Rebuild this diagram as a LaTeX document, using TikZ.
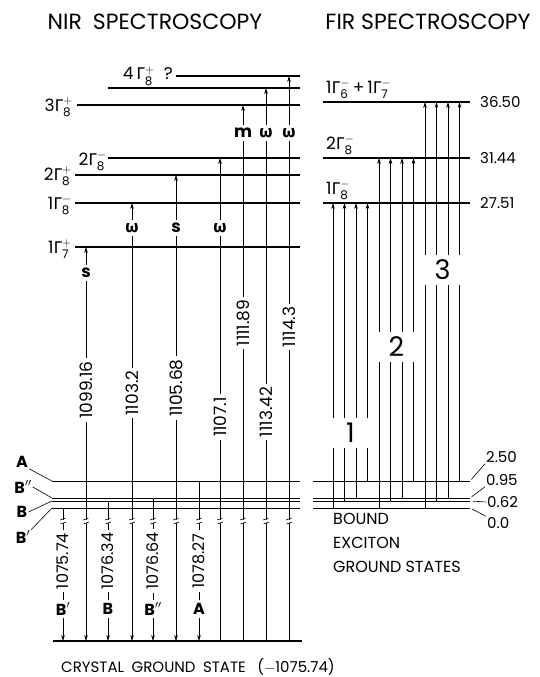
\documentclass[tikz,border=0pt]{standalone}
\usepackage{amsmath}
\usepackage{fontspec}
\setmainfont{Poppins}
\newfontfamily\gfont{Fira Sans}
\usetikzlibrary{arrows.meta}

% level symbol: Gamma with sub- and superscript
\newcommand{\Gm}[2]{{\gfont Γ}\ensuremath{^{#2}_{\text{#1}}}}

\begin{document}
\begin{tikzpicture}[x=1pt, y=-1pt]
\tikzstyle{lvl} = [line width=1.3pt]
\tikzstyle{blvl} = [line width=1pt]
\tikzstyle{trans} = [line width=0.6pt]
\tikzstyle{tip} = [-{Stealth[length=6pt,width=3.6pt]}]
\tikzstyle{tips} = [{Stealth[length=6pt,width=3.6pt]}-{Stealth[length=6pt,width=3.6pt]}]
\tikzstyle{lab} = [font=\fontsize{15}{18}\selectfont, inner sep=1pt]
\tikzstyle{glab} = [lab, font=\fontsize{17}{20}\selectfont]
\tikzstyle{wlab} = [lab, font=\fontsize{17}{20}\selectfont\bfseries, fill=white, inner sep=3pt]
\tikzstyle{vlab} = [lab, font=\fontsize{17}{20}\selectfont, rotate=90, fill=white, inner sep=3pt]
\tikzstyle{big} = [font=\fontsize{27}{28}\selectfont, fill=white, minimum width=42pt, minimum height=30pt, inner sep=0pt]
\tikzstyle{ttl} = [font=\fontsize{22}{24}\selectfont]

\useasboundingbox (0,0) rectangle (539,677);

\node[ttl] (nir) at (155,22) {NIR\enspace SPECTROSCOPY};
\node[ttl] (fir) at (428,22) {FIR SPECTROSCOPY};

% NIR excited levels
\foreach \n/\xa/\y in {g4/176/76, gx/108/88, g3/77/105, g2m/108/158, g2p/75/175, g1m/75/203, g1p/75/247}
  \draw[lvl] (\xa,\y) coordinate (\n) -- (300,\y);
\node[glab, anchor=east] (l4) at (174,76) {4\,\Gm{8}{+}\; ?};
\node[glab, anchor=east] (l3) at (74,107) {3\Gm{8}{+}};
\node[glab, anchor=east] (l2m) at (108,161) {2\Gm{8}{-}};
\node[glab, anchor=east] (l2p) at (73,176) {2\Gm{8}{+}};
\node[glab, anchor=east] (l1m) at (73,205) {1\Gm{8}{-}};
\node[glab, anchor=east] (l1p) at (73,249) {1\Gm{7}{+}};

% FIR excited levels
\foreach \n/\y in {f3/102, f2/158, f1/203}
  \draw[lvl] (323,\y) coordinate (\n) -- (470,\y);
\node[glab, anchor=south west] (r3) at (325,100) {1\Gm{6}{-}\,+\,1\Gm{7}{-}};
\node[glab, anchor=south west] (r2) at (325,156) {2\Gm{8}{-}};
\node[glab, anchor=south west] (r1) at (325,201) {1\Gm{8}{-}};
\node[lab, anchor=west] (e3) at (479,102) {36.50};
\node[lab, anchor=west] (e2) at (479,158) {31.44};
\node[lab, anchor=west] (e1) at (479,203) {27.51};

% bound exciton levels and crystal ground state
\foreach \n/\y in {A/481, Bpp/498, B/501, Bp/508} {
  \draw[blvl] (52,\y) coordinate (L\n) -- (300,\y);
  \draw[blvl] (313,\y) coordinate (R\n) -- (470,\y) coordinate (E\n);
}
\draw[lvl] (53,641) coordinate (gs) -- (302,641);

% labels of the bound exciton levels
\node[lab, font=\fontsize{16}{18}\selectfont\bfseries] (bA) at (22,462) {A};
\node[lab, font=\fontsize{16}{18}\selectfont\bfseries] (bBpp) at (23,487) {B$''$};
\node[lab, font=\fontsize{16}{18}\selectfont\bfseries] (bB) at (22,512) {B};
\node[lab, font=\fontsize{16}{18}\selectfont\bfseries] (bBp) at (23,537) {B$'$};
\draw[trans] (bA.south east) -- (LA);
\draw[trans] (bBpp.east) -- (LBpp);
\draw[trans] (bB.east) -- (LB);
\draw[trans] (bBp.north east) -- (LBp);

\node[lab, anchor=west] (v250) at (485,457) {2.50};
\node[lab, anchor=west] (v095) at (485,480) {0.95};
\node[lab, anchor=west] (v062) at (486,502) {0.62};
\node[lab, anchor=west] (v000) at (486,523) {0.0};
\draw[trans, shorten >=2pt] (v250.south west) -- (EA);
\draw[trans, shorten >=2pt] (v095.south west) -- (EBpp);
\draw[trans, shorten >=3pt] (v062.west) -- (EB);
\draw[trans, shorten >=2pt] (v000.north west) -- (EBp);

\node[lab, anchor=north west, align=left, font=\fontsize{16}{24}\selectfont] (bx) at (332,512) {BOUND\\EXCITON\\GROUND STATES};
\node[lab, anchor=west] (cgs) at (60,667) {CRYSTAL\enspace GROUND\enspace STATE\enspace\ ($-$1075.74)};

% NIR transitions from the crystal ground state
\foreach \x/\t/\lb/\ly/\num/\ny in {86/g1p/s/273/1099.16/390, 132/g1m/{\gfont ω}/228/1103.2/393, 176/g2p/s/228/1105.68/388} {
  \draw[trans, tips] (\x,0 |- gs) -- (\x,0 |- \t);
  \node[wlab] (s\x) at (\x,\ly) {\lb};
  \node[vlab] (n\x) at (\x,\ny) {\num};
}
\foreach \x/\t/\lb/\ly/\num/\ny in {220/g2m/{\gfont ω}/228/1107.1/417, 243/g3/m/133/1111.89/323, 266/gx/{\gfont ω}/133/1113.42/412, 289/g4/{\gfont ω}/133/1114.3/327} {
  \draw[trans, tip] (\x,0 |- gs) -- (\x,0 |- \t);
  \node[wlab] (s\x) at (\x,\ly) {\lb};
  \node[vlab] (n\x) at (\x,\ny) {\num};
}

% bound exciton recombination
\foreach \x/\f/\num/\lb in {63/LBp/1075.74/B$'$, 108/LB/1076.34/B, 153/LBpp/1076.64/B$''$, 199/LA/1078.27/A} {
  \draw[trans, tip] (\x,0 |- \f) -- (\x,0 |- gs);
  \node[vlab, font=\fontsize{16}{18}\selectfont] (n\x) at (\x,561) {\num};
  \node[wlab, font=\fontsize{16}{18}\selectfont\bfseries] (s\x) at (\x,609) {\lb};
}

% breaks
\foreach \x in {63,86,108,132,153,176,199,220,243,266,289} {
  \draw[white, line width=2pt] (\x,519.5) -- (\x,522.5);
  \draw[trans] (\x-3,520) -- (\x+2.5,518);
  \draw[trans] (\x-2.5,524) -- (\x+3,522);
}

% FIR transitions
\foreach \g/\xs/\t/\gy in {1/333/f1/433, 2/379/f2/347, 3/425/f3/270} {
  \foreach \k/\f in {0/RBp, 1/RB, 2/RBpp, 3/RA} {
    \pgfmathsetmacro{\xx}{\xs+\k*11.5}
    \draw[trans, tip] (\xx,0 |- \f) -- (\xx,0 |- \t);
  }
  \node[big] (grp\g) at (\xs+17.5,\gy) {\g};
}
\end{tikzpicture}
\end{document}
